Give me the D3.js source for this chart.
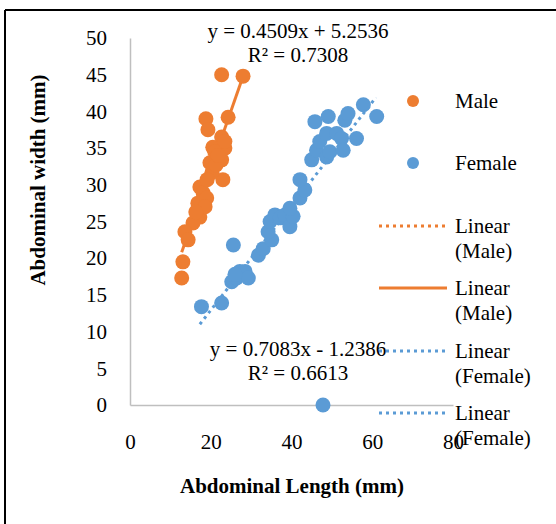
<!DOCTYPE html>
<html>
<head>
<meta charset="utf-8">
<script src="https://cdn.jsdelivr.net/npm/d3@7"></script>
<style>
  body { margin: 0; background: #fff; }
  svg { font-family: "Liberation Serif", "Times New Roman", serif; }
</style>
</head>
<body>
<div id="chart"></div>
<script>
// values
const maleX = [22.7, 28.0, 24.3, 18.8, 19.3, 22.7, 20.5, 23.5, 19.8, 22.7, 23.0, 17.3, 18.1, 16.8, 19.0,
  17.3, 15.6, 13.6, 14.4, 13.1, 12.8, 21.0, 20.3, 19.1, 21.3, 18.6, 16.3, 23.5, 21.8];
const maleY = [45.0, 44.8, 39.2, 39.0, 37.5, 36.5, 35.1, 35.0, 33.0, 33.4, 30.7, 29.7, 28.9, 27.5, 28.2,
  25.6, 24.8, 23.6, 22.5, 19.5, 17.3, 34.5, 31.7, 30.7, 32.7, 27.0, 26.3, 35.9, 34.0];

const femaleX = [17.7, 22.7, 25.6, 25.2, 26.4, 27.2, 28.5, 29.3, 26.0, 31.8, 33.0, 35.1, 34.2, 34.7, 35.9,
  37.2, 38.4, 39.6, 40.4, 39.6, 42.1, 43.3, 42.1, 45.0, 46.2, 48.7, 49.5, 47.0, 48.7, 51.2,
  52.4, 52.8, 45.8, 49.1, 53.2, 54.0, 57.8, 61.1, 56.1, 47.8];
const femaleY = [13.4, 13.9, 21.8, 16.8, 17.3, 18.2, 18.2, 17.3, 17.8, 20.4, 21.3, 22.5, 23.6, 25.0, 25.9,
  25.5, 25.9, 24.3, 25.7, 26.8, 28.2, 29.3, 30.7, 33.4, 34.7, 33.8, 34.5, 35.9, 37.0, 37.0,
  36.3, 34.7, 38.6, 39.3, 38.8, 39.7, 40.9, 39.3, 36.3, 0];

// trend line end points
const maleFitX = [12.8, 28.0];
const maleFitY = [20.8, 44.8];
const femaleFitX = [17.3, 60.9];
const femaleFitY = [11.0, 41.9];

const xTicks = [0, 20, 40, 60, 80];
const yTicks = [0, 5, 10, 15, 20, 25, 30, 35, 40, 45, 50];

const maleEq = ["y = 0.4509x + 5.2536", "R² = 0.7308"];
const femaleEq = ["y = 0.7083x - 1.2386", "R² = 0.6613"];

const legendItems = [
  { kind: "dot", color: "#ed7d31", label: ["Male"] },
  { kind: "dot", color: "#5b9bd5", label: ["Female"] },
  { kind: "dotted", color: "#ed7d31", label: ["Linear", "(Male)"] },
  { kind: "solid", color: "#ed7d31", label: ["Linear", "(Male)"] },
  { kind: "dotted", color: "#5b9bd5", label: ["Linear", "(Female)"] },
  { kind: "dotted", color: "#5b9bd5", label: ["Linear", "(Female)"] }
];

const orange = "#ed7d31";
const blue = "#5b9bd5";
const fs = "21px";
const w = 556, h = 524;

const svg = d3.select("#chart").append("svg")
  .attr("width", w)
  .attr("height", h);

// chart border (top and left visible)
svg.append("line").attr("x1", 5).attr("y1", 10).attr("x2", 556).attr("y2", 10)
  .attr("stroke", "#000").attr("stroke-width", 2);
svg.append("line").attr("x1", 5).attr("y1", 10).attr("x2", 5).attr("y2", 524)
  .attr("stroke", "#000").attr("stroke-width", 2);

const xScale = d3.scaleLinear().domain([0, 80]).range([130, 453]);
const yScale = d3.scaleLinear().domain([0, 50]).range([405, 38]);

const xAxis = d3.axisBottom(xScale).tickValues(xTicks).tickSize(0).tickPadding(29);
const yAxis = d3.axisLeft(yScale).tickValues(yTicks).tickSize(0).tickPadding(23);

const gx = svg.append("g")
  .attr("transform", "translate(0," + yScale(0) + ")")
  .call(xAxis);
const gy = svg.append("g")
  .attr("transform", "translate(" + xScale(0) + ",0)")
  .call(yAxis);

[gx, gy].forEach(function (g) {
  g.select(".domain").attr("stroke", "#bfbfbf").attr("stroke-width", 1.5);
  g.selectAll("text")
    .style("font-family", "Liberation Serif")
    .style("font-size", fs)
    .attr("fill", "#000");
});

// trend lines
const line = d3.line()
  .x(function (d) { return xScale(d[0]); })
  .y(function (d) { return yScale(d[1]); });

svg.append("path")
  .datum(d3.zip(maleFitX, maleFitY))
  .attr("d", line)
  .attr("fill", "none")
  .attr("stroke", orange)
  .attr("stroke-width", 3);

svg.append("path")
  .datum(d3.zip(femaleFitX, femaleFitY))
  .attr("d", line)
  .attr("fill", "none")
  .attr("stroke", blue)
  .attr("stroke-width", 3)
  .attr("stroke-dasharray", "3 4");

// points
svg.append("g").selectAll("circle")
  .data(d3.zip(maleX, maleY))
  .enter()
  .append("circle")
  .attr("cx", function (d) { return xScale(d[0]); })
  .attr("cy", function (d) { return yScale(d[1]); })
  .attr("r", 7.5)
  .attr("fill", orange);

svg.append("g").selectAll("circle")
  .data(d3.zip(femaleX, femaleY))
  .enter()
  .append("circle")
  .attr("cx", function (d) { return xScale(d[0]); })
  .attr("cy", function (d) { return yScale(d[1]); })
  .attr("r", 7.5)
  .attr("fill", blue);

// equations
[[maleEq, 38], [femaleEq, 356]].forEach(function (e) {
  e[0].forEach(function (t, j) {
    svg.append("text")
      .attr("x", 298).attr("y", e[1] + j * 24)
      .attr("text-anchor", "middle")
      .style("font-size", fs)
      .text(t);
  });
});

// legend
const legendY = [101, 163, 226, 288, 351, 413];
legendItems.forEach(function (item, i) {
  const y = legendY[i];
  if (item.kind == "dot") {
    svg.append("circle")
      .attr("cx", 413).attr("cy", y).attr("r", 6)
      .attr("fill", item.color);
  } else {
    svg.append("line")
      .attr("x1", 379).attr("x2", 447)
      .attr("y1", y).attr("y2", y)
      .attr("stroke", item.color)
      .attr("stroke-width", 3)
      .attr("stroke-dasharray", item.kind == "dotted" ? "3 4" : null);
  }
  item.label.forEach(function (t, j) {
    svg.append("text")
      .attr("x", 455)
      .attr("y", y + 7 + j * 25)
      .style("font-size", fs)
      .text(t);
  });
});

// axis titles
svg.append("text")
  .attr("x", 292).attr("y", 493)
  .attr("text-anchor", "middle")
  .style("font-size", fs)
  .style("font-weight", "bold")
  .text("Abdominal Length (mm)");

svg.append("text")
  .attr("transform", "translate(45,180) rotate(-90)")
  .attr("text-anchor", "middle")
  .style("font-size", fs)
  .style("font-weight", "bold")
  .text("Abdominal width (mm)");
</script>
</body>
</html>
